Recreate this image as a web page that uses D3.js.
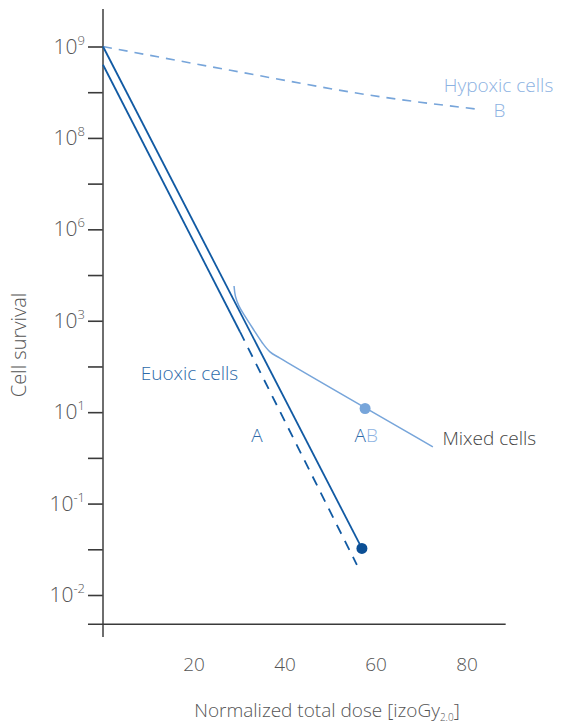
<!DOCTYPE html>
<html>
<head>
<meta charset="utf-8">
<script src="https://cdn.jsdelivr.net/npm/d3@7"></script>
<style>
  html, body { margin: 0; padding: 0; background: #fff; }
  svg { display: block; font-family: "Open Sans", "Noto Sans", sans-serif; font-weight: 300; }
</style>
</head>
<body>
<div id="grafica"></div>
<script>
// y levels are evenly spaced on the figure, labels are 10^exp
var levelExponents = [-2, -1, 1, 3, 6, 8, 9];
var doseTicks = [20, 40, 60, 80];

// [dose, level]
var hypoxic = [[0, 6.0], [28, 5.74], [61, 5.45], [83, 5.31]];
var euoxicB = [[0, 6.0], [56.9, 0.51]];
var euoxicA = [[0, 5.80], [30.1, 2.88]];
var euoxicADashed = [[30.1, 2.88], [55.8, 0.33]];
var mixed = [[28.8, 3.38], [29.1, 3.27], [29.9, 3.16], [31.2, 3.05], [33.0, 2.91],
             [35.0, 2.76], [36.7, 2.66], [38.9, 2.59], [72.5, 1.62]];
var euoxicEnd = [56.9, 0.51];
var mixedPoint = [57.6, 2.04];

var ancho = 563, alto = 724;
var oscuro = "#115aa3", claro = "#77a5da", gris = "#555";

var svg = d3.select("#grafica").append("svg")
    .attr("width", ancho)
    .attr("height", alto);

var x = d3.scaleLinear().domain([0, 80]).range([103, 467]);
var y = d3.scaleLinear().domain([0, 6]).range([595, 46.5]);

// ejes
var yTicks = d3.range(0, 6.01, 0.5);
var yAxis = d3.axisLeft(y)
    .tickValues(yTicks)
    .tickSize(15)
    .tickFormat("");
var gy = svg.append("g")
    .attr("transform", "translate(" + x(0) + ",0)")
    .call(yAxis);
gy.select(".domain").remove();
gy.selectAll(".tick line").attr("stroke", "#3a3a3a").attr("stroke-width", 1.6);

svg.append("line")
    .attr("x1", x(0)).attr("x2", x(0))
    .attr("y1", y(6.41)).attr("y2", y(-0.46))
    .attr("stroke", "#4a4a4a").attr("stroke-width", 1.6);

svg.append("line")
    .attr("x1", x(-3.3)).attr("x2", x(88.5))
    .attr("y1", y(-0.32)).attr("y2", y(-0.32))
    .attr("stroke", "#3a3a3a").attr("stroke-width", 1.6);

// etiquetas del eje y
var lbl = svg.append("g").selectAll("text")
    .data(levelExponents)
    .enter().append("text")
    .attr("x", 85)
    .attr("y", function (d, i) { return y(i) + 7; })
    .attr("text-anchor", "end")
    .style("font-size", "21px")
    .style("fill", gris);
lbl.append("tspan").text("10");
lbl.append("tspan")
    .attr("dy", -9)
    .style("font-size", "13px")
    .text(function (d) { return d; });

// etiquetas del eje x
svg.append("g").selectAll("text")
    .data(doseTicks)
    .enter().append("text")
    .attr("x", function (d) { return x(d); })
    .attr("y", 671)
    .attr("text-anchor", "middle")
    .style("font-size", "19px")
    .style("fill", gris)
    .text(function (d) { return d; });

var tx = svg.append("text")
    .attr("x", 327)
    .attr("y", 717)
    .attr("text-anchor", "middle")
    .style("font-size", "19px")
    .style("fill", gris);
tx.append("tspan").text("Normalized total dose [izoGy");
tx.append("tspan").attr("dy", 4).style("font-size", "10px").text("2.0");
tx.append("tspan").attr("dy", -4).text("]");

svg.append("text")
    .attr("transform", "translate(26,345) rotate(-90)")
    .attr("text-anchor", "middle")
    .style("font-size", "20px")
    .style("fill", gris)
    .text("Cell survival");

// curvas
var linea = d3.line()
    .x(function (d) { return x(d[0]); })
    .y(function (d) { return y(d[1]); });
var curva = d3.line()
    .x(function (d) { return x(d[0]); })
    .y(function (d) { return y(d[1]); })
    .curve(d3.curveMonotoneX);

svg.append("path").datum(hypoxic)
    .attr("d", curva)
    .attr("fill", "none").attr("stroke", claro)
    .attr("stroke-width", 1.6).attr("stroke-dasharray", "9,7");

svg.append("path").datum(mixed)
    .attr("d", d3.line().x(function (d) { return x(d[0]); }).y(function (d) { return y(d[1]); }).curve(d3.curveCatmullRom))
    .attr("fill", "none").attr("stroke", claro)
    .attr("stroke-width", 1.5);

svg.append("path").datum(euoxicB)
    .attr("d", linea)
    .attr("fill", "none").attr("stroke", oscuro).attr("stroke-width", 1.8);

svg.append("path").datum(euoxicA)
    .attr("d", linea)
    .attr("fill", "none").attr("stroke", oscuro).attr("stroke-width", 1.8);

svg.append("path").datum(euoxicADashed)
    .attr("d", linea)
    .attr("fill", "none").attr("stroke", oscuro).attr("stroke-width", 1.8)
    .attr("stroke-dasharray", "10,8");

svg.append("circle")
    .attr("cx", x(euoxicEnd[0])).attr("cy", y(euoxicEnd[1]))
    .attr("r", 5.5).attr("fill", "#0b4f95");

svg.append("circle")
    .attr("cx", x(mixedPoint[0])).attr("cy", y(mixedPoint[1]))
    .attr("r", 5.5).attr("fill", claro);

// textos
function nota(dose, level, texto, color) {
    return svg.append("text")
        .attr("x", x(dose)).attr("y", y(level))
        .style("font-size", "19px")
        .style("fill", color)
        .text(texto);
}
nota(74.9, 5.50, "Hypoxic cells", "#8db2e2");
nota(85.8, 5.23, "B", "#8db2e2");
nota(8.3, 2.35, "Euoxic cells", "#2d6aa9");
nota(32.6, 1.67, "A", "#2d6aa9");
nota(74.6, 1.64, "Mixed cells", "#444");
var ab = nota(55.3, 1.67, "A", "#2d6aa9");
ab.append("tspan").style("fill", "#8db2e2").text("B");
</script>
</body>
</html>
